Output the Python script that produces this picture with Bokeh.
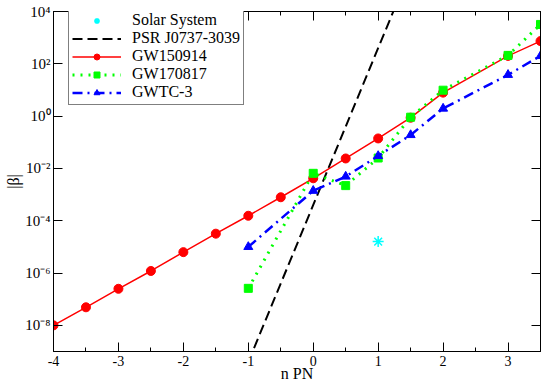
from bokeh.plotting import figure
from bokeh.models import (Range1d, FixedTicker, LinearAxis, LogAxis,
                          CustomJSTickFormatter, Legend, LegendItem)
from bokeh.embed import file_html
from bokeh.resources import INLINE

# ---- data ----
solar_x = [1.0]
solar_y = [1.6e-5]

psr_x = [-1.0, 1.5]
psr_y = [4.0e-10, 4.0e5]

gw150914_x = [-4.0, -3.5, -3.0, -2.5, -2.0, -1.5, -1.0, -0.5, 0.0, 0.5, 1.0, 1.5, 2.0, 3.0, 3.5]
gw150914_y = [1.0e-8, 4.9e-8, 2.5e-7, 1.2e-6, 6.3e-6, 3.2e-5, 1.55e-4, 7.9e-4,
              4.2e-3, 2.4e-2, 0.14, 0.87, 7.9, 200.0, 740.0]

gw170817_x = [-1.0, 0.0, 0.5, 1.0, 1.5, 2.0, 3.0, 3.5]
gw170817_y = [2.6e-7, 6.5e-3, 2.2e-3, 2.5e-2, 0.91, 9.8, 210.0, 3200.0]

gwtc3_x = [-1.0, 0.0, 0.5, 1.0, 1.5, 2.0, 3.0, 3.5]
gwtc3_y = [1.0e-5, 1.4e-3, 4.9e-3, 3.0e-2, 0.19, 1.95, 38.0, 200.0]

x_ticks = [-4, -3, -2, -1, 0, 1, 2, 3]
x_tick_labels = ["-4", "-3", "-2", "-1", "0", "1", "2", "3"]
x_minor_ticks = [-3.5, -2.5, -1.5, -0.5, 0.5, 1.5, 2.5, 3.5]
y_ticks = [1e-8, 1e-6, 1e-4, 1e-2, 1e0, 1e2, 1e4]
y_tick_labels = ["10\u207b\u2078", "10\u207b\u2076", "10\u207b\u2074", "10\u207b\u00b2",
                 "10\u2070", "10\u00b2", "10\u2074"]

FONT = "'Liberation Serif', 'Times New Roman', serif"

p = figure(width=545, height=385, y_axis_type="log",
           x_range=Range1d(-4, 3.5), y_range=Range1d(1e-9, 1e4),
           output_backend="svg", toolbar_location=None,
           min_border_left=53, min_border_right=5, min_border_top=11, min_border_bottom=34)
p.background_fill_color = "white"
p.border_fill_color = "white"
p.outline_line_color = "black"
p.outline_line_width = 1
p.xgrid.visible = False
p.ygrid.visible = False

xfmt = CustomJSTickFormatter(args=dict(tks=x_ticks, lbls=x_tick_labels), code="""
for (let i = 0; i < tks.length; i++) { if (Math.abs(tks[i] - tick) < 1e-6) return lbls[i]; }
return '';
""")
yfmt = CustomJSTickFormatter(args=dict(tks=y_ticks, lbls=y_tick_labels), code="""
for (let i = 0; i < tks.length; i++) {
  if (Math.abs(Math.log10(tks[i]) - Math.log10(tick)) < 1e-6) return lbls[i];
}
return '';
""")
blankfmt = CustomJSTickFormatter(code="return '';")

xt = FixedTicker(ticks=x_ticks, minor_ticks=x_minor_ticks)
yt = FixedTicker(ticks=y_ticks)


def style_axis(ax):
    ax.axis_line_color = "black"
    ax.major_tick_line_color = "black"
    ax.minor_tick_line_color = "black"
    ax.major_tick_in = 9
    ax.major_tick_out = 0
    ax.minor_tick_in = 4
    ax.minor_tick_out = 0
    ax.major_label_text_font = FONT
    ax.major_label_text_font_style = "normal"
    ax.major_label_text_color = "black"
    ax.major_label_text_font_size = "14px"
    ax.axis_label_text_font = FONT
    ax.axis_label_text_font_style = "normal"
    ax.axis_label_text_color = "black"
    ax.axis_label_text_font_size = "16px"


xa = p.xaxis[0]
xa.ticker = xt
xa.formatter = xfmt
xa.axis_label = "n PN"
style_axis(xa)
xa.major_label_standoff = 4
xa.axis_label_standoff = -4

ya = p.yaxis[0]
ya.ticker = yt
ya.formatter = yfmt
ya.axis_label = "|\u03b2|"
style_axis(ya)
ya.major_label_text_font_size = "15px"
ya.minor_tick_line_color = None
ya.major_label_standoff = 3
ya.axis_label_standoff = 0

top = LinearAxis(ticker=xt, formatter=blankfmt)
style_axis(top)
top.major_label_standoff = 0
p.add_layout(top, "above")
right = LogAxis(ticker=yt, formatter=blankfmt)
style_axis(right)
right.minor_tick_line_color = None
right.major_label_standoff = 0
p.add_layout(right, "right")

# ---- series ----
r_solar = p.scatter(solar_x, solar_y, marker="asterisk", size=11,
                    line_color="#00ffff", line_width=1.5)

r_psr = p.line(psr_x, psr_y, line_color="black", line_width=2, line_dash="10 5")

r_150_l = p.line(gw150914_x, gw150914_y, line_color="#ff0000", line_width=1.5)
r_150_m = p.scatter(gw150914_x, gw150914_y, marker="circle", size=9,
                    fill_color="#ff0000", line_color="#ff0000")

r_170_l = p.line(gw170817_x, gw170817_y, line_color="#00ff00", line_width=3, line_dash="2 6")
r_170_m = p.scatter(gw170817_x, gw170817_y, marker="square", size=8,
                    fill_color="#00ff00", line_color="#00ff00")

r_gwtc_l = p.line(gwtc3_x, gwtc3_y, line_color="#0000ff", line_width=2.5, line_dash="10 5 2 5")
r_gwtc_m = p.scatter(gwtc3_x, gwtc3_y, marker="triangle", size=9,
                     fill_color="#0000ff", line_color="#0000ff")

legend = Legend(items=[
    LegendItem(label="Solar System", renderers=[r_solar]),
    LegendItem(label="PSR J0737-3039", renderers=[r_psr]),
    LegendItem(label="GW150914", renderers=[r_150_l, r_150_m]),
    LegendItem(label="GW170817", renderers=[r_170_l, r_170_m]),
    LegendItem(label="GWTC-3", renderers=[r_gwtc_l, r_gwtc_m]),
], location=(15, 246))
legend.label_text_font = FONT
legend.label_text_font_style = "normal"
legend.label_text_font_size = "16px"
legend.label_text_line_height = 1.05
legend.label_text_color = "black"
legend.glyph_width = 49
legend.glyph_height = 15
legend.label_height = 15
legend.label_standoff = 11
legend.spacing = 0
legend.padding = 3
legend.margin = 0
legend.border_line_color = "black"
legend.border_line_width = 1
legend.background_fill_color = "white"
legend.background_fill_alpha = 1.0
p.add_layout(legend, "center")

open("out.html", "w").write(file_html(p, INLINE))
